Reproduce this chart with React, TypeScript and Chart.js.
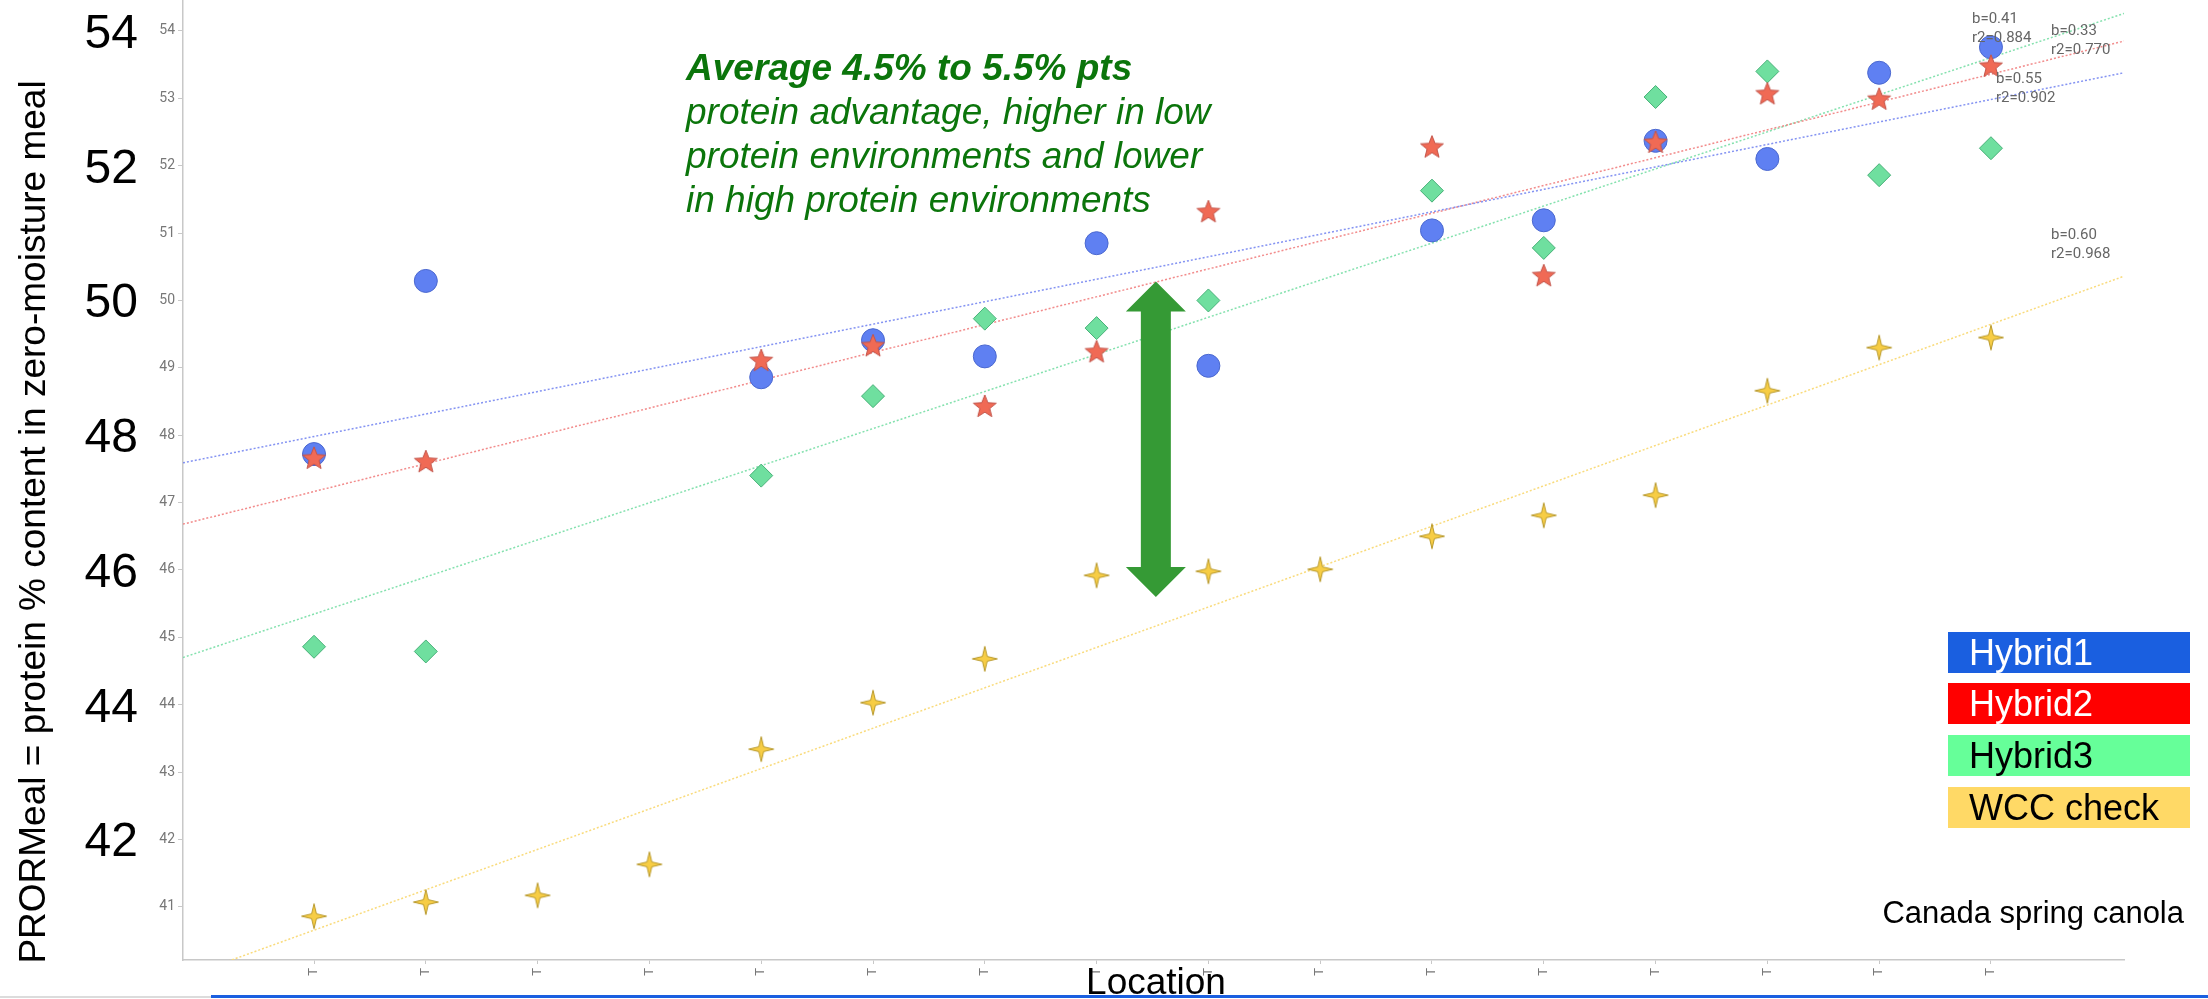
import React, { useEffect, useRef } from 'react';
import { Chart, registerables } from 'chart.js';

Chart.register(...registerables);

// ---------- data ----------
const LOCATIONS = [1, 2, 3, 4, 5, 6, 7, 8, 9, 10, 11, 12, 13, 14, 15, 16];
const X_TICK_LABELS = ['T', 'T', 'T', 'T', 'T', 'T', 'T', 'T', 'T', 'T', 'T', 'T', 'T', 'T', 'T', 'T'];
const Y_TICKS = [41, 42, 43, 44, 45, 46, 47, 48, 49, 50, 51, 52, 53, 54];
const BIG_Y_LABELS = [54, 52, 50, 48, 46, 44, 42];

const SERIES_NAMES = ['Hybrid1', 'Hybrid2', 'Hybrid3', 'WCC check'];
const HYBRID1 = [47.72, 50.29, null, null, 48.86, 49.41, 49.17, 50.85, 49.03, null, 51.04, 51.19, 52.37, 52.10, 53.38, 53.76];
const HYBRID2 = [47.65, 47.60, null, null, 49.10, 49.32, 48.42, 49.23, 51.31, null, 52.27, 50.36, 52.34, 53.06, 52.98, 53.47];
const HYBRID3 = [44.86, 44.79, null, null, 47.40, 48.58, 49.73, 49.59, 50.00, null, 51.63, 50.78, 53.02, 53.40, 51.86, 52.26];
const WCC = [40.86, 41.07, 41.17, 41.63, 43.34, 44.03, 44.68, 45.92, 45.98, 46.01, 46.50, 46.81, 47.11, 48.66, 49.30, 49.45];

// trend lines: value at the left and right edge of the plot
const TREND_START = [47.59, 46.68, 44.70, 39.95];
const TREND_END = [53.38, 53.85, 54.26, 50.36];
const TREND_TEXT = [
  ['b=0.33', 'r2=0.770'],
  ['b=0.41', 'r2=0.884'],
  ['b=0.55', 'r2=0.902'],
  ['b=0.60', 'r2=0.968'],
];

const X_MIN = -0.172;
const X_MAX = 17.19;
const Y_MIN = 40.21;
const Y_MAX = 54.46;

// arrow (protein advantage)
const ARROW_X = 8.53;
const ARROW_TOP = 50.28;
const ARROW_BOTTOM = 45.6;

const ANNOTATION_LINES = [
  'Average 4.5% to 5.5% pts',
  'protein advantage, higher in low',
  'protein environments and lower',
  'in high protein environments',
];

const Y_TITLE = 'PRORMeal = protein % content in zero-moisture meal';
const X_TITLE = 'Location';
const FOOTNOTE = 'Canada spring canola';

// ---------- styles ----------
const POINT_FILL = ['#5f80f2', '#f06a55', '#6fdf9f', '#f7cd45'];
const POINT_STROKE = ['#4b68cf', '#c2544a', '#46b077', '#b8992c'];
const TREND_COLORS = ['rgba(110,128,240,0.85)', 'rgba(240,120,120,0.85)', 'rgba(110,220,160,0.85)', 'rgba(248,215,110,0.9)'];
const LEGEND_BG = ['#1a5fe0', '#ff0000', '#66ff99', '#ffd966'];
const LEGEND_FG = ['#ffffff', '#ffffff', '#000000', '#000000'];
const SANS = '"Liberation Sans", Arial, sans-serif';

function makeStar(points: number, outer: number, inner: number, fill: string, stroke: string) {
  const size = 30;
  const c = document.createElement('canvas');
  c.width = size;
  c.height = size;
  const ctx = c.getContext('2d')!;
  ctx.translate(size / 2, size / 2);
  ctx.beginPath();
  for (let i = 0; i < points * 2; i++) {
    const r = i % 2 === 0 ? outer : inner;
    const a = -Math.PI / 2 + (i * Math.PI) / points;
    const x = r * Math.cos(a);
    const y = r * Math.sin(a);
    if (i === 0) ctx.moveTo(x, y);
    else ctx.lineTo(x, y);
  }
  ctx.closePath();
  ctx.fillStyle = fill;
  ctx.fill();
  ctx.lineWidth = 1;
  ctx.strokeStyle = stroke;
  ctx.stroke();
  return c;
}

function toPoints(values: (number | null)[]) {
  const out: { x: number; y: number }[] = [];
  values.forEach((v, i) => {
    if (v !== null) out.push({ x: LOCATIONS[i], y: v });
  });
  return out;
}

const overlayPlugin = {
  id: 'overlay',
  afterDraw(chart: any) {
    const ctx = chart.ctx as CanvasRenderingContext2D;
    const xs = chart.scales.x;
    const ys = chart.scales.y;
    ctx.save();

    // y-axis title
    ctx.save();
    ctx.translate(45, 522);
    ctx.rotate(-Math.PI / 2);
    ctx.font = `37px ${SANS}`;
    ctx.fillStyle = '#000';
    ctx.textAlign = 'center';
    ctx.textBaseline = 'alphabetic';
    ctx.fillText(Y_TITLE, 0, 0);
    ctx.restore();

    // big y labels
    ctx.font = `48px ${SANS}`;
    ctx.fillStyle = '#000';
    ctx.textAlign = 'right';
    ctx.textBaseline = 'alphabetic';
    BIG_Y_LABELS.forEach((v) => {
      const y = ys.getPixelForValue(v);
      ctx.fillText(String(v), 138, y + 17);
    });

    // x title
    ctx.font = `37px ${SANS}`;
    ctx.textAlign = 'center';
    ctx.fillText(X_TITLE, 1156, 994);

    // bottom lines
    ctx.fillStyle = '#dcdcdc';
    ctx.fillRect(0, 996, 211, 2);
    ctx.fillStyle = '#1a5fe0';
    ctx.fillRect(211, 995, 2208 - 211, 3);

    // annotation text
    ctx.fillStyle = '#0b750b';
    ctx.textAlign = 'left';
    ANNOTATION_LINES.forEach((line, i) => {
      ctx.font = i === 0 ? `italic bold 37px ${SANS}` : `italic 37px ${SANS}`;
      ctx.fillText(line, 686, 80 + i * 44);
    });

    // double arrow
    const ax = xs.getPixelForValue(ARROW_X);
    const at = ys.getPixelForValue(ARROW_TOP);
    const ab = ys.getPixelForValue(ARROW_BOTTOM);
    const headH = 30;
    const headW = 30;
    const shaftW = 15;
    ctx.beginPath();
    ctx.moveTo(ax, at);
    ctx.lineTo(ax + headW, at + headH);
    ctx.lineTo(ax + shaftW, at + headH);
    ctx.lineTo(ax + shaftW, ab - headH);
    ctx.lineTo(ax + headW, ab - headH);
    ctx.lineTo(ax, ab);
    ctx.lineTo(ax - headW, ab - headH);
    ctx.lineTo(ax - shaftW, ab - headH);
    ctx.lineTo(ax - shaftW, at + headH);
    ctx.lineTo(ax - headW, at + headH);
    ctx.closePath();
    ctx.fillStyle = '#359a35';
    ctx.fill();

    // trend labels
    const labelPos = [
      [2051, 35],
      [1972, 23],
      [1996, 83],
      [2051, 239],
    ];
    ctx.font = '15px Roboto, sans-serif';
    ctx.fillStyle = '#666';
    ctx.textAlign = 'left';
    TREND_TEXT.forEach((lines, i) => {
      const [lx, ly] = labelPos[i];
      lines.forEach((t, j) => ctx.fillText(t, lx, ly + j * 18.5));
    });

    // legend
    const boxTops = [632, 683, 735, 787];
    SERIES_NAMES.forEach((name, i) => {
      ctx.fillStyle = LEGEND_BG[i];
      ctx.fillRect(1948, boxTops[i], 242, 41);
      ctx.fillStyle = LEGEND_FG[i];
      ctx.font = `36px ${SANS}`;
      ctx.textAlign = 'left';
      ctx.fillText(name, 1969, boxTops[i] + 33);
    });

    // footnote
    ctx.fillStyle = '#000';
    ctx.font = `31px ${SANS}`;
    ctx.textAlign = 'right';
    ctx.fillText(FOOTNOTE, 2184, 923);

    ctx.restore();
  },
};

export default function App() {
  const ref = useRef<HTMLCanvasElement | null>(null);

  useEffect(() => {
    if (!ref.current) return;
    const circle = 'circle';
    const star = makeStar(5, 12, 5.2, POINT_FILL[1], POINT_STROKE[1]);
    const sparkle = makeStar(4, 12.5, 3.4, POINT_FILL[3], POINT_STROKE[3]);
    const styles: any[] = [circle, star, 'rectRot', sparkle];
    const radii = [11.5, 12, 11.5, 12];
    const orders = [5, 2, 3, 4];
    const seriesValues = [HYBRID1, HYBRID2, HYBRID3, WCC];

    const pointSets = seriesValues.map((vals, i) => ({
      label: SERIES_NAMES[i],
      data: toPoints(vals),
      pointStyle: styles[i],
      pointRadius: radii[i],
      pointHoverRadius: radii[i],
      pointBackgroundColor: POINT_FILL[i],
      pointBorderColor: POINT_STROKE[i],
      pointBorderWidth: 1,
      showLine: false,
      order: orders[i],
    }));

    const trendSets = TREND_START.map((s, i) => ({
      label: SERIES_NAMES[i] + ' trend',
      data: [
        { x: X_MIN, y: s },
        { x: X_MAX, y: TREND_END[i] },
      ],
      showLine: true,
      borderColor: TREND_COLORS[i],
      borderWidth: 1.5,
      borderDash: [2, 2],
      pointRadius: 0,
      pointHoverRadius: 0,
      order: 10 + i,
    }));

    const chart = new Chart(ref.current, {
      type: 'scatter',
      data: { datasets: [...trendSets, ...pointSets] as any },
      options: {
        animation: false,
        responsive: false,
        maintainAspectRatio: false,
        devicePixelRatio: 1,
        events: [],
        layout: { autoPadding: false, padding: { left: 123, right: 84, top: 0, bottom: 0 } },
        plugins: {
          legend: { display: false },
          tooltip: { enabled: false },
          title: { display: false },
        },
        scales: {
          x: {
            type: 'linear',
            min: X_MIN,
            max: X_MAX,
            afterBuildTicks: (s: any) => {
              s.ticks = LOCATIONS.map((v) => ({ value: v }));
            },
            afterFit: (s: any) => {
              s.height = 39;
              s.paddingLeft = 0;
              s.paddingRight = 0;
            },
            grid: { drawOnChartArea: false, drawTicks: true, tickLength: 4, color: '#c8c8c8' },
            border: { display: true, color: '#c8c8c8', width: 1.5 },
            ticks: {
              autoSkip: false,
              minRotation: 90,
              maxRotation: 90,
              padding: 4,
              color: '#777',
              font: { family: 'Roboto', size: 13 },
              callback: (_v: any, i: number) => X_TICK_LABELS[i],
            },
          },
          y: {
            type: 'linear',
            min: Y_MIN,
            max: Y_MAX,
            afterBuildTicks: (s: any) => {
              s.ticks = Y_TICKS.map((v) => ({ value: v }));
            },
            afterFit: (s: any) => {
              s.width = 60;
              s.paddingTop = 0;
              s.paddingBottom = 0;
            },
            grid: { drawOnChartArea: false, drawTicks: true, tickLength: 5, color: '#c8c8c8' },
            border: { display: true, color: '#c8c8c8', width: 1.5 },
            ticks: {
              autoSkip: false,
              padding: 3,
              color: '#777',
              font: { family: 'Roboto', size: 14 },
              callback: (v: any) => String(v),
            },
          },
        },
      },
      plugins: [overlayPlugin],
    });

    return () => chart.destroy();
  }, []);

  return (
    <div style={{ position: 'fixed', left: 0, top: 0, width: 2208, height: 999, background: '#fff' }}>
      <canvas ref={ref} width={2208} height={999} style={{ display: 'block' }} />
    </div>
  );
}
